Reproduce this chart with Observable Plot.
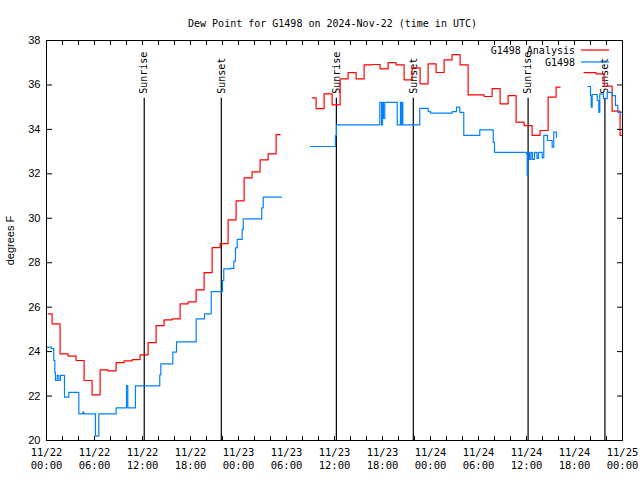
<!DOCTYPE html>
<html><head><meta charset="utf-8">
<script src="https://cdn.jsdelivr.net/npm/d3@7"></script>
<script src="https://cdn.jsdelivr.net/npm/@observablehq/plot@0.6"></script>
<style>body{margin:0;background:#fff} svg{display:block}</style>
</head><body><div id="chart"></div>
<script>
const title = "Dew Point for G1498 on 2024-Nov-22 (time in UTC)";
const yLabel = "degrees F";
const seriesNames = ["G1498 Analysis", "G1498"];
const seriesColors = ["#ff0000", "#0080ff"];
const xDomain = ["2024-11-22T00:00Z", "2024-11-25T00:00Z"];
const yTicks = [20, 22, 24, 26, 28, 30, 32, 34, 36, 38];

// Hourly analysis values (first valid at 00:12 UTC), NaN = missing
const analysisStart = "2024-11-22T00:12Z";
const analysisValues = [
  25.7, 25.25, 23.9, 23.8, 23.6, 22.7, 22.05, 23.18, 23.13, 23.5,
  23.58, 23.64, 23.85, 24.4, 25.17, 25.43, 25.47, 26.15, 26.24, 26.78,
  27.55, 28.68, 28.86, 29.93, 30.78, 31.82, 32.09, 32.63, 32.9, 33.76,
  NaN, NaN, NaN, 35.42, 34.93, 35.6, 35.1, 36.27, 36.55, 36.27,
  36.9, 36.92, 36.72, 37.0, 36.9, 36.23, 36.77, 36.05, 36.95, 36.56,
  37.13, 37.36, 36.9, 35.55, 35.55, 35.48, 35.83, 35.15, 35.52, 34.33,
  34.17, 33.73, 33.95, 35.45, 35.9, NaN, NaN, 36.55, 36.55, 36.5,
  35.95, 34.82, 33.73
];

// Station observations: hours after 11/22 00:00 UTC and values
const obsHours = [
  0, 0.62, 0.91, 1.04, 1.12, 1.34, 1.54, 1.75, 2.25, 2.79,
  4.04, 4.54, 4.66, 6.12, 6.54, 8.71, 10.0, 10.16, 11.12, 14.16,
  14.29, 15.79, 16.25, 18.71, 19.75, 20.59, 22.0, 22.16, 23.0, 23.41,
  23.62, 23.84, 24.46, 24.59, 26.91, 27.09, 29.34, 29.6,
  33.0, 36.12, 36.25, 41.66, 41.88, 42.0, 42.12, 42.29, 43.84, 44.25,
  44.38, 44.46, 44.54, 46.66, 47.71, 48.0, 50.71, 51.25, 51.66, 52.16,
  54.16, 55.84, 56.0, 60.0, 60.09, 60.16, 60.38, 60.56, 60.75, 61.0,
  61.31, 61.5, 61.96, 62.16, 62.62, 63.21, 63.41, 63.75, 64.0,
  67.66, 68.0, 68.09, 68.21, 68.84, 69.04, 69.16, 69.62, 70.09, 70.71,
  71.12, 71.41, 72
];
const obsValues = [
  24.2, 24.13, 23.6, 23.07, 22.7, 22.93, 22.7, 22.93, 21.95, 22.17,
  21.2, 21.28, 21.2, 20.2, 21.2, 21.47, 22.47, 21.47, 22.46, 22.95,
  23.45, 23.98, 24.44, 25.47, 25.7, 26.7, 27.2, 27.72, 27.75, 28.07,
  28.67, 29.05, 29.5, 29.97, 30.47, 30.95, 30.95, NaN,
  33.23, 33.72, 34.2, 35.22, 34.2, 35.22, 34.5, 35.22, 34.2, 35.22,
  34.2, 35.22, 34.2, 34.95, 34.8, 34.73, 34.8, 35.0, 34.77, 33.73,
  33.98, 33.42, 32.97, 32.9, 31.92, 32.97, 32.65, 32.97, 32.65, 32.97,
  32.7, 32.97, 32.72, 33.73, 33.5, 33.2, 33.88, 33.65, NaN,
  35.93, 35.52, 35.0, 35.57, 35.3, 34.77, 35.6, 35.38, 35.67, 35.52,
  35.08, 34.77, 34.77
];

const eventTimes = ["2024-11-22T12:13Z", "2024-11-22T21:51Z", "2024-11-23T12:14Z",
                    "2024-11-23T21:51Z", "2024-11-24T12:12Z", "2024-11-24T21:48Z"];
const eventLabels = ["Sunrise", "Sunset", "Sunrise", "Sunset", "Sunrise", "Sunset"];

// layout constants
const eventLineTop = 35.4;
const eventLabelY = 35.6;

const t0 = new Date(xDomain[0]);
const a0 = new Date(analysisStart);
const analysis = analysisValues.map((v, i) => ({t: d3.utcHour.offset(a0, i), v}));
const obs = obsHours.map((h, i) => ({t: new Date(+t0 + h * 3600e3), v: obsValues[i]}));
const events = eventTimes.map((s, i) => ({t: new Date(s), label: eventLabels[i]}));

const mono = "'DejaVu Sans Mono', monospace";
const sans = "'Liberation Sans', Arial, sans-serif";
const fmt = d3.utcFormat("%m/%d\n%H:%M");
const blank = () => "";

const chart = Plot.plot({
  width: 640, height: 480,
  marginLeft: 46, marginRight: 18, marginTop: 40, marginBottom: 40,
  style: {fontFamily: mono, fontSize: "10px", background: "#fff", color: "#000", overflow: "visible"},
  x: {type: "utc", domain: xDomain.map(d => new Date(d))},
  y: {domain: [20, 38]},
  marks: [
    Plot.ruleX(events, {x: "t", y1: 20, y2: eventLineTop, stroke: "#000", strokeWidth: 1.2}),
    Plot.text(events, {x: "t", y: eventLabelY, text: "label", rotate: -90, textAnchor: "start", lineAnchor: "middle", fontSize: 10, fill: "#000"}),
    Plot.line(analysis, {x: "t", y: "v", curve: "step", stroke: seriesColors[0], strokeWidth: 1.2, clip: true}),
    Plot.line(obs, {x: "t", y: "v", curve: "step-after", stroke: seriesColors[1], strokeWidth: 1.2, clip: true}),
    Plot.frame({stroke: "#000"}),
    Plot.axisY({ticks: yTicks, tickSize: -6, tickPadding: 12, fontFamily: sans, fontSize: 11,
                label: yLabel, labelAnchor: "center", labelArrow: "none", labelOffset: 40}),
    Plot.axisY({anchor: "right", ticks: yTicks, tickSize: -6, tickFormat: blank, label: null}),
    Plot.axisX({ticks: d3.utcHour.every(2), tickSize: -4, tickFormat: blank, label: null}),
    Plot.axisX({anchor: "top", ticks: d3.utcHour.every(2), tickSize: -4, tickFormat: blank, label: null}),
    Plot.axisX({ticks: d3.utcHour.every(6), tickSize: 0, tickPadding: 6, tickFormat: fmt, fontSize: 10.5, lineHeight: 1.25, label: null}),
    Plot.text([title], {frameAnchor: "top", dy: -21, dx: -2, fontSize: 10, fill: "#000"})
  ]
});

// legend (top-right inside the frame)
const svg = d3.select(chart);
const lg = svg.append("g").attr("font-family", mono).attr("font-size", 10);
seriesNames.forEach((name, i) => {
  const yy = 50 + i * 12;
  lg.append("text").attr("x", 575).attr("y", yy).attr("dy", "0.35em").attr("text-anchor", "end").attr("fill", "#000").text(name);
  lg.append("line").attr("x1", 581).attr("x2", 609).attr("y1", yy).attr("y2", yy)
    .attr("stroke", seriesColors[i]).attr("stroke-width", 1.2);
});

document.getElementById("chart").appendChild(chart);
</script>
</body></html>
